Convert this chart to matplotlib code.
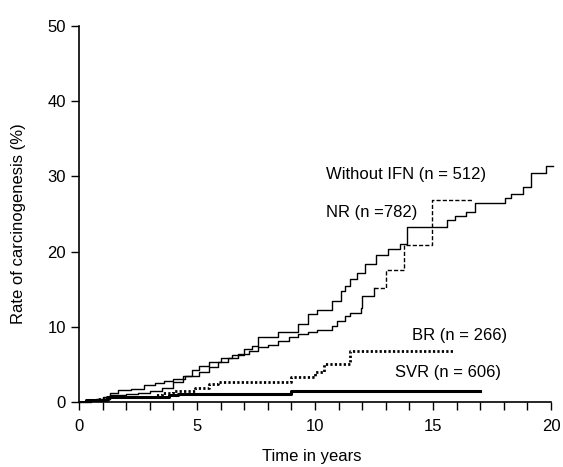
import matplotlib
matplotlib.use("Agg")
import matplotlib.pyplot as plt

plt.rcParams['font.family'] = ['Liberation Sans', 'DejaVu Sans']

# ---- data (years, cumulative rate %) ----
without_ifn_t = [0, 0.5, 1.0, 1.3, 2.0, 2.5, 3.0, 3.5, 4.0, 4.4, 4.8, 5.1, 5.5, 6.0, 6.5,
                 7.0, 7.35, 7.6, 8.45, 9.3, 9.7, 10.1, 10.7, 11.1, 11.25, 11.5, 11.8,
                 12.1, 12.6, 13.1, 13.6, 13.9, 15.6, 15.95, 16.4, 16.8, 18.05, 18.3,
                 18.8, 19.15, 19.8, 20.1]
without_ifn_v = [0, 0.2, 0.4, 0.9, 1.0, 1.2, 1.5, 1.9, 2.7, 3.5, 4.3, 4.85, 5.3, 5.8, 6.2,
                 7.0, 7.5, 8.6, 9.3, 10.4, 11.7, 12.3, 13.4, 14.8, 15.4, 16.3, 17.2,
                 18.3, 19.6, 20.3, 21.0, 23.3, 24.2, 24.7, 25.3, 26.4, 27.1, 27.7,
                 28.6, 30.4, 31.4, 31.4]

nr_t = [0, 0.3, 0.7, 1.0, 1.3, 1.65, 2.2, 2.75, 3.2, 3.6, 4.0, 4.5, 5.1, 5.5, 5.9, 6.3,
        6.75, 7.2, 7.6, 8.0, 8.45, 8.9, 9.3, 9.7, 10.1, 10.7, 10.95, 11.25, 11.5, 11.95,
        12.0, 12.5, 13.0, 13.77, 14.96, 16.7]
nr_v = [0, 0.2, 0.4, 0.6, 1.2, 1.55, 1.7, 2.2, 2.5, 2.8, 3.1, 3.5, 3.96, 4.6, 5.3, 5.8,
        6.4, 6.8, 7.27, 7.6, 8.15, 8.6, 9.0, 9.3, 9.6, 10.1, 10.8, 11.45, 11.9, 12.55,
        14.1, 15.2, 17.6, 20.9, 26.9, 26.9]
nr_dashed_from = 12.5   # the NR curve is drawn dashed after this time

br_t = [0, 0.8, 1.3, 3.2, 3.5, 4.0, 4.9, 5.5, 5.9, 9.0, 10.0, 10.4, 11.5, 15.9]
br_v = [0, 0.4, 0.6, 0.9, 1.2, 1.4, 1.8, 2.4, 2.7, 3.3, 4.0, 5.1, 6.8, 6.8]

svr_t = [0, 0.3, 1.2, 3.8, 4.2, 9.0, 17.0]
svr_v = [0, 0.2, 0.6, 0.9, 1.1, 1.5, 1.5]

labels = ["Without IFN (n = 512)", "NR (n =782)", "BR (n = 266)", "SVR (n = 606)"]
label_pos = [(10.45, 30.3), (10.45, 25.2), (14.1, 8.8), (13.4, 3.9)]

x_ticks = [0, 5, 10, 15, 20]
y_ticks = [0, 10, 20, 30, 40, 50]

# ---- figure ----
fig = plt.figure(figsize=(5.63, 4.67), dpi=100)
ax = fig.add_axes([79/563, 1-402/467, 472/563, (402-26)/467])

ax.plot(without_ifn_t, without_ifn_v, drawstyle='steps-post', color='black', lw=1.0,
        clip_on=False)

solid_t = [t for t in nr_t if t <= nr_dashed_from]
solid_v = nr_v[:len(solid_t)]
dash_t = nr_t[len(solid_t)-1:]
dash_v = nr_v[len(solid_t)-1:]
ax.plot(solid_t, solid_v, drawstyle='steps-post', color='black', lw=1.0)
ax.plot(dash_t, dash_v, drawstyle='steps-post', color='black', lw=1.0,
        linestyle=(0, (3, 1.5)))

ax.plot(br_t, br_v, drawstyle='steps-post', color='black', lw=2.0,
        linestyle=(0, (0.8, 0.8)))
ax.plot(svr_t, svr_v, drawstyle='steps-post', color='black', lw=2.2)

for txt, (x, y) in zip(labels, label_pos):
    ax.text(x, y, txt, fontsize=12, va='center', ha='left', color='black')

ax.set_xlim(0, 20)
ax.set_ylim(0, 50)
ax.set_xticks(range(0, 21))
ax.set_xticklabels([str(t) if t in x_ticks else '' for t in range(0, 21)])
ax.set_yticks(y_ticks)
ax.set_yticklabels([str(t) for t in y_ticks])
ax.tick_params(axis='both', labelsize=12, length=6, width=1.0, direction='out',
               colors='black')
ax.tick_params(axis='x', pad=6)
ax.spines['top'].set_visible(False)
ax.spines['right'].set_visible(False)
ax.spines['left'].set_linewidth(1.2)
ax.spines['bottom'].set_linewidth(1.2)
ax.spines['bottom'].set_bounds(0, 20)

fig.text(0.032, 0.522, "Rate of carcinogenesis (%)", rotation=90, fontsize=12,
         ha='center', va='center')
fig.text(0.554, 0.022, "Time in years", fontsize=12, ha='center', va='center')

fig.savefig("out.png", dpi=100)
